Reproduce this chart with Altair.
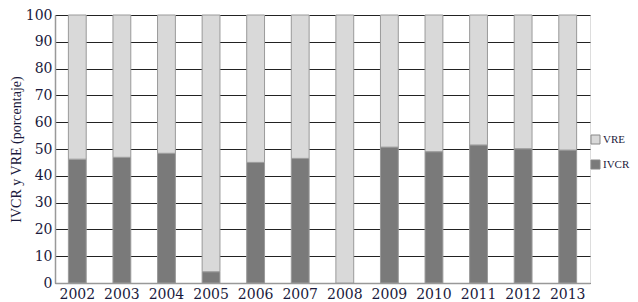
import altair as alt
import pandas as pd

anios = ["2002", "2003", "2004", "2005", "2006", "2007", "2008",
         "2009", "2010", "2011", "2012", "2013"]
ivcr = [46.2, 46.9, 48.4, 4.2, 45.0, 46.5, 0.0, 50.7, 49.0, 51.5, 50.1, 49.6]
vre = [100 - v for v in ivcr]
series = ["VRE", "IVCR"]
colores = ["#d9d9d9", "#7a7a7a"]
ticks_y = [0, 10, 20, 30, 40, 50, 60, 70, 80, 90, 100]

rows = []
for a, i_, v_ in zip(anios, ivcr, vre):
    rows.append({"anio": a, "serie": "IVCR", "valor": i_, "orden": 0})
    rows.append({"anio": a, "serie": "VRE", "valor": v_, "orden": 1})
df = pd.DataFrame(rows)

font = "DejaVu Serif"
font2 = "Liberation Serif"
txt = "#1a1a3c"

chart = alt.Chart(df).mark_bar(stroke="#9a9a9a", strokeWidth=1).encode(
    x=alt.X("anio:N", sort=anios, title=None,
            scale=alt.Scale(paddingInner=0.6, paddingOuter=0.3),
            axis=alt.Axis(labelAngle=0, ticks=False, tickSize=0, labelPadding=4,
                          labelFont=font, labelFontSize=14, labelColor=txt,
                          domainColor="#999999", domainWidth=1.5)),
    y=alt.Y("valor:Q", stack="zero", title="IVCR y VRE (porcentaje)",
            scale=alt.Scale(domain=[0, 100], nice=False),
            axis=alt.Axis(values=ticks_y, ticks=False, tickSize=0, labelPadding=3,
                          labelFont=font, labelFontSize=14, labelColor=txt,
                          titleFont=font2, titleFontSize=14, titleFontWeight="normal",
                          titleColor=txt, titlePadding=2,
                          grid=True, gridColor="#222222", gridWidth=1,
                          domainColor="#999999", domainWidth=1.5)),
    color=alt.Color("serie:N",
                    scale=alt.Scale(domain=series, range=colores),
                    legend=alt.Legend(title=None, orient="none",
                                      legendX=535, legendY=119,
                                      symbolType="square", symbolSize=81,
                                      symbolStrokeColor="#888888",
                                      symbolStrokeWidth=1, symbolOpacity=1,
                                      rowPadding=12, labelFont=font2,
                                      labelFontSize=11, labelColor=txt,
                                      labelOffset=2)),
    order=alt.Order("orden:Q"),
).properties(
    width=535, height=268,
    autosize=alt.AutoSizeParams(type="none"),
    padding={"left": 47, "top": 7, "right": 40, "bottom": 17},
).configure_view(strokeWidth=0).configure(background="white")

chart.save("out.html", embed_options={"renderer": "svg", "actions": False})
